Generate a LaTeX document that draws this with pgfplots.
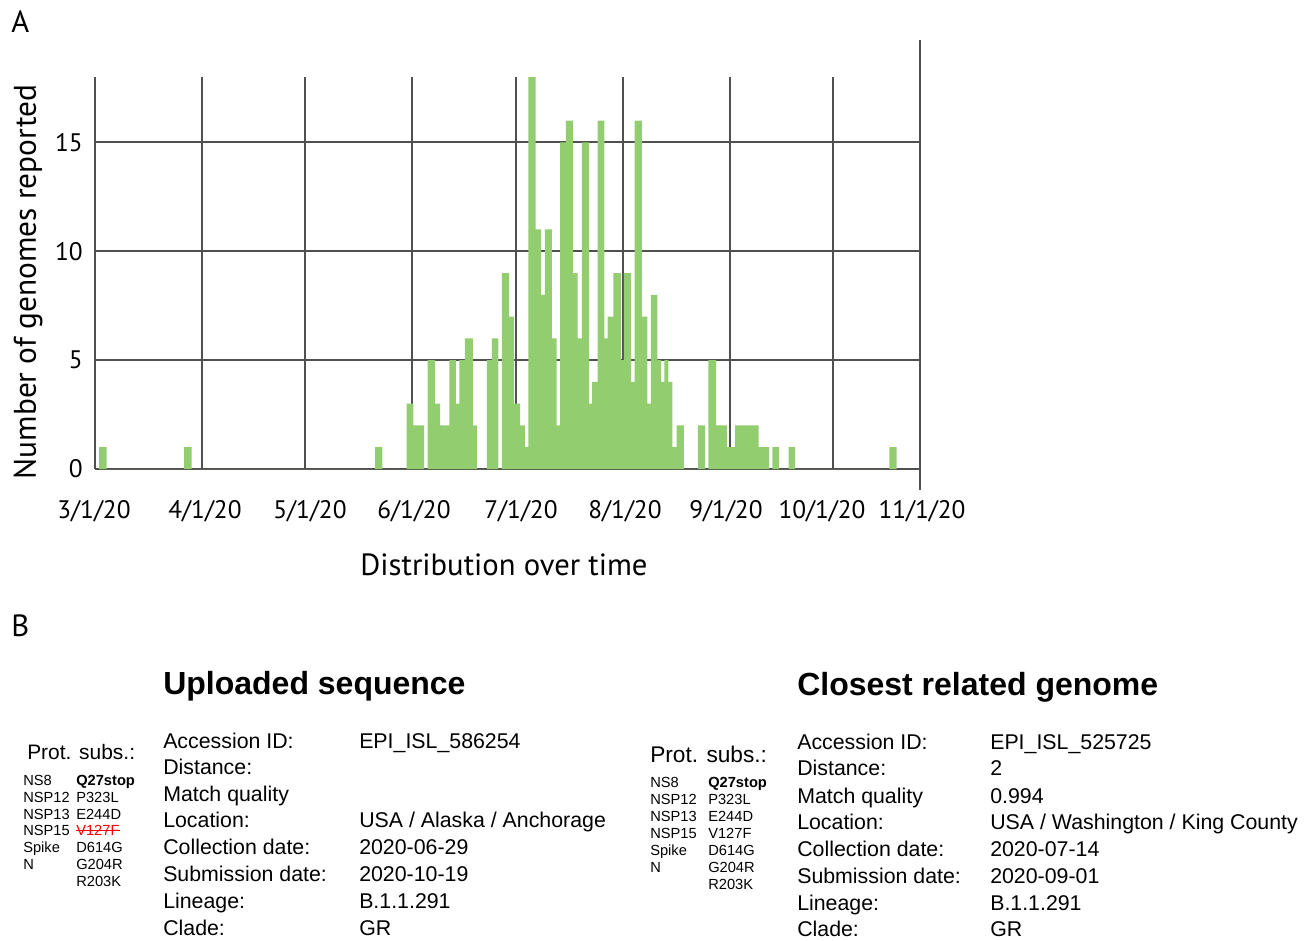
\documentclass[border=0pt]{standalone}
\usepackage{fontspec}
\setmainfont{Liberation Sans}
\newfontfamily\myriad{PT Sans}
\usepackage{pgfplots}
\pgfplotsset{compat=1.18}
\definecolor{barG}{RGB}{146,206,111}
\definecolor{gridG}{RGB}{80,80,80}
\newcommand\fT{\fontsize{24}{26}\selectfont\bfseries}
\newcommand\fR{\fontsize{16}{18}\selectfont}
\newcommand\fS{\fontsize{11}{12}\selectfont}
\newcommand\fTick{\myriad\fontsize{19}{21}\selectfont}
\begin{document}
\begin{tikzpicture}
\path[use as bounding box] (0,0) rectangle (983.25pt,-705pt);
\begin{axis}[
  at={(71.25pt,-351.75pt)}, anchor=south west, scale only axis,
  width=618.75pt, height=294pt,
  xmin=0, xmax=239.1, ymin=0, ymax=18,
  clip=false,
  axis line style={draw=none},
  xtick={0,31,61,92,122,153,184,214,239.1},
  xticklabels={},
  ytick={0,5,10,15},
  major tick length=0pt,
  grid=major, grid style={gridG, line width=1.5pt},
  /pgf/number format/assume math mode=true,
  yticklabel style={font=\fTick, anchor=east, inner sep=0pt, xshift=-9pt},
]
\addplot[const plot, fill=barG, draw=none] coordinates {
(1.2,1) (3.4,0) (25.8,1) (28.0,0) (81.2,1) (83.3,0)
(90.3,3) (92.3,2) (95.4,0) (96.4,5) (98.6,3) (100.0,2) (102.7,5) (104.6,3)
(105.6,5) (107.2,6) (109.5,2) (110.7,0) (113.6,5) (115.0,6) (116.9,0)
(117.9,9) (120.0,7) (121.4,3) (123.2,2) (124.6,1) (125.6,18) (127.7,11)
(129.3,8) (130.4,11) (132.4,6) (133.8,2) (134.8,15) (136.5,16) (138.5,9)
(139.9,6) (141.1,15) (143.2,3) (144.1,4) (145.7,16) (147.6,6) (148.6,7)
(150.2,9) (152.4,5) (153.3,9) (155.4,4) (156.4,16) (158.5,7) (160.1,3)
(161.1,8) (163.0,5) (164.1,4) (165.0,5) (166.2,4) (167.3,1) (168.6,2)
(170.7,0) (174.7,2) (176.8,0) (177.8,5) (180.0,2) (183.1,1) (185.5,2)
(192.3,1) (195.4,0) (196.3,1) (198.3,0) (201.0,1) (202.9,0) (230.2,1) (232.3,0)
} \closedcycle;
\draw[gridG, line width=1.5pt] (axis cs:239.1,-0.96) -- (axis cs:239.1,19.7);
\end{axis}
\begin{scope}[x=0.75pt,y=-0.75pt]
% x tick labels
\foreach \xx/\t in {94/{3/1/20}, 205/{4/1/20}, 310/{5/1/20}, 414/{6/1/20}, 521/{7/1/20}, 625/{8/1/20}, 726/{9/1/20}, 822/{10/1/20}, 922/{11/1/20}}{
  \node[font=\fTick, inner sep=0pt] at (\xx,511) {\t};
}
\node[font=\myriad\fontsize{23.5}{25}\selectfont, rotate=90] at (28,282) {Number of genomes reported};
\node[font=\myriad\fontsize{23}{25}\selectfont] at (504,565) {Distribution over time};
\node[font=\myriad\fontsize{23}{25}\selectfont, anchor=west, inner sep=0pt] at (11,22) {A};
\node[font=\myriad\fontsize{23}{25}\selectfont, anchor=west, inner sep=0pt] at (11,626) {B};
% titles
\node[anchor=base west, inner sep=0pt, font=\fT] at (163,694) {Uploaded sequence};
\node[anchor=base west, inner sep=0pt, font=\fT] at (797,695) {Closest related genome};
% prot subs
\node[anchor=base west, inner sep=0pt, font=\fontsize{15.7}{17}\selectfont] at (27,759.5) {Prot. subs.:};
\node[anchor=base west, inner sep=0pt, font=\fontsize{17}{19}\selectfont] at (650,762.5) {Prot. subs.:};
% left small table
\foreach \y/\a/\b in {780/NS8/\textbf{Q27stop}, 797/NSP12/P323L, 814/NSP13/E244D, 830/NSP15/, 847/Spike/D614G, 864/N/G204R, 881//R203K}{
  \node[anchor=base west, inner sep=0pt, font=\fS] at (23,\y+5.2) {\a};
  \node[anchor=base west, inner sep=0pt, font=\fS] at (76,\y+5.2) {\b};
}
\node[anchor=base west, inner sep=0pt, font=\fS, text=red] (v) at (76,835.2) {V127F};
\draw[red, line width=0.7pt] (v.west) -- (v.east);
\foreach \y/\a/\b in {782/NS8/\textbf{Q27stop}, 799/NSP12/P323L, 816/NSP13/E244D, 833/NSP15/V127F, 850/Spike/D614G, 867/N/G204R, 884//R203K}{
  \node[anchor=base west, inner sep=0pt, font=\fS] at (650,\y+5.2) {\a};
  \node[anchor=base west, inner sep=0pt, font=\fS] at (708,\y+5.2) {\b};
}
% main tables
\foreach \y/\a/\b in {748.5/Accession ID:/EPI\_ISL\_586254, 774.5/Distance:/, 801.5/Match quality/, 827.5/Location:/{USA / Alaska / Anchorage}, 854.5/Collection date:/2020-06-29, 881.5/Submission date:/2020-10-19, 908.5/Lineage:/B.1.1.291, 935.5/Clade:/GR}{
  \node[anchor=base west, inner sep=0pt, font=\fR] at (163,\y) {\a};
  \node[anchor=base west, inner sep=0pt, font=\fR] at (359,\y) {\b};
}
\foreach \y/\a/\b in {749.5/Accession ID:/EPI\_ISL\_525725, 775.5/Distance:/2, 803.5/Match quality/0.994, 829.5/Location:/{USA / Washington / King County}, 856.5/Collection date:/2020-07-14, 883.5/Submission date:/2020-09-01, 910.5/Lineage:/B.1.1.291, 936.5/Clade:/GR}{
  \node[anchor=base west, inner sep=0pt, font=\fR] at (797,\y) {\a};
  \node[anchor=base west, inner sep=0pt, font=\fR] at (990,\y) {\b};
}
\end{scope}
\end{tikzpicture}
\end{document}
